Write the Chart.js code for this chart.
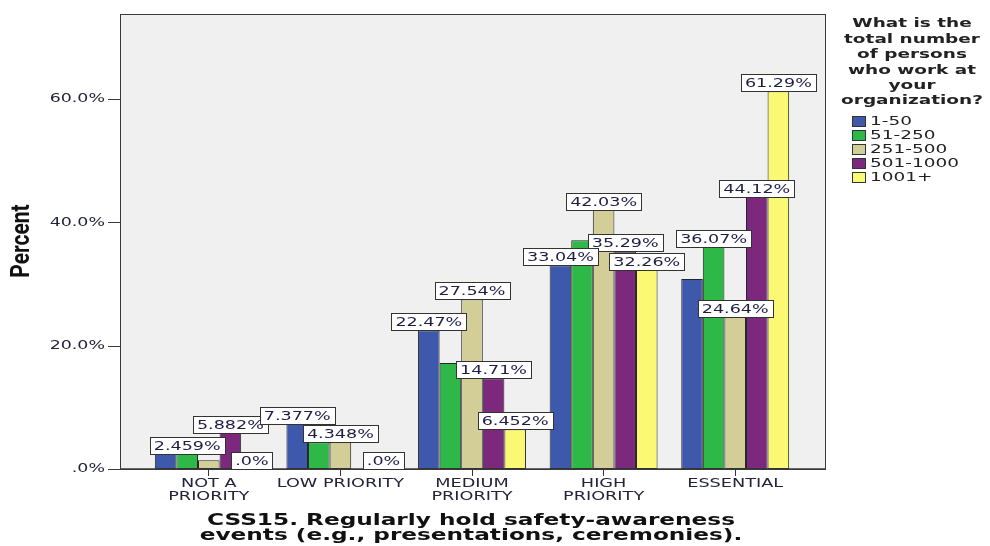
<!DOCTYPE html>
<html>
<head>
<meta charset="utf-8">
<script src="https://cdn.jsdelivr.net/npm/chart.js@4.4.1/dist/chart.umd.min.js"></script>
<style>
  html, body { margin: 0; padding: 0; background: #fff; }
  canvas { display: block; }
</style>
</head>
<body>
<canvas id="chart" width="990" height="546"></canvas>
<script>
// categories on the x axis
const categories = [['NOT A', 'PRIORITY'], 'LOW PRIORITY', ['MEDIUM', 'PRIORITY'], ['HIGH', 'PRIORITY'], 'ESSENTIAL'];

// organisation size groups (legend)
const seriesNames = ['1-50', '51-250', '251-500', '501-1000', '1001+'];

// percent values
const pct1to50 = [2.459, 7.377, 22.47, 33.04, 30.8];
const pct51to250 = [2.459, 4.35, 17.2, 37.1, 36.07];
const pct251to500 = [1.4, 4.348, 27.54, 42.03, 24.64];
const pct501to1000 = [5.882, null, 14.71, 35.29, 44.12];
const pct1001plus = [0, 0, 6.452, 32.26, 61.29];

// which bars carry a value label in the original
const label1to50 = [false, true, true, true, false];
const label51to250 = [true, false, false, false, true];
const label251to500 = [false, true, true, true, true];
const label501to1000 = [true, false, true, true, true];
const label1001plus = [true, true, true, true, true];

const yTicks = [0, 20, 40, 60];
const yMax = 73.8;

const legendTitle = ['What is the', 'total number', 'of persons', 'who work at', 'your', 'organization?'];
const xTitle = ['CSS15. Regularly hold safety-awareness', 'events (e.g., presentations, ceremonies).'];
const yTitle = 'Percent';

const colors = ['#3E58AC', '#2EB848', '#D3CE97', '#7C287D', '#FBF873'];
const FONT = '"DejaVu Sans", Verdana, sans-serif';
const TEXT = '#23233a';

const allValues = [pct1to50, pct51to250, pct251to500, pct501to1000, pct1001plus];
const allShown = [label1to50, label51to250, label251to500, label501to1000, label1001plus];

function fmtPct(v) {
  if (v === 0) return '.0%';
  return v.toPrecision(4) + '%';
}

function fmtTick(v) {
  return v === 0 ? '.0%' : v.toFixed(1) + '%';
}

// SPSS output here is stretched sideways, so text gets a horizontal scale
function wideText(ctx, str, x, y, font, sx, align, color) {
  ctx.save();
  ctx.font = font;
  ctx.fillStyle = color || TEXT;
  ctx.textBaseline = 'middle';
  ctx.textAlign = align || 'center';
  ctx.translate(x, y);
  ctx.scale(sx, 1);
  ctx.fillText(str, 0, 0);
  ctx.restore();
}

const spssPlugin = {
  id: 'spss',
  beforeDraw(chart) {
    const { ctx, chartArea: a } = chart;
    const left = a.left - 23, right = a.right + 25;
    ctx.save();
    ctx.fillStyle = '#F0F0F0';
    ctx.fillRect(left, a.top, right - left, a.bottom - a.top);
    ctx.restore();
  },
  afterDatasetsDraw(chart) {
    const { ctx, chartArea: a } = chart;
    const left = a.left - 23, right = a.right + 25;
    const xs = chart.scales.x, ys = chart.scales.y;

    // plot frame
    ctx.save();
    ctx.strokeStyle = '#3a3a3a';
    ctx.lineWidth = 1;
    ctx.strokeRect(left + 0.5, a.top + 0.5, right - left - 1, a.bottom - a.top);
    ctx.lineWidth = 1.5;
    ctx.beginPath();
    ctx.moveTo(left, a.bottom);
    ctx.lineTo(right, a.bottom);
    ctx.stroke();

    // y tick marks sit on the frame, not on the scale edge
    ctx.lineWidth = 1;
    ys.ticks.forEach(t => {
      const py = Math.round(ys.getPixelForValue(t.value)) + 0.5;
      ctx.beginPath();
      ctx.moveTo(left - 12, py);
      ctx.lineTo(left, py);
      ctx.stroke();
    });
    ctx.restore();

    // y tick labels
    ys.ticks.forEach(t => {
      wideText(ctx, fmtTick(t.value), left - 15, ys.getPixelForValue(t.value), '13px ' + FONT, 1.34, 'right', TEXT);
    });

    // x category labels
    xs.ticks.forEach((t, i) => {
      const px = xs.getPixelForTick(i);
      const lines = Array.isArray(categories[i]) ? categories[i] : [categories[i]];
      lines.forEach((line, j) => {
        wideText(ctx, line, px, 484 + j * 13, '13px ' + FONT, 1.36, 'center', TEXT);
      });
    });

    // value labels, blue last so it sits on top
    const labelFont = '13px ' + FONT;
    const sx = 1.35;
    for (let d = chart.data.datasets.length - 1; d >= 0; d--) {
      const meta = chart.getDatasetMeta(d);
      const vals = allValues[d];
      meta.data.forEach((bar, i) => {
        const v = vals[i];
        if (v === null || !allShown[d][i]) return;
        const txt = fmtPct(v);
        ctx.save();
        ctx.font = labelFont;
        const w = Math.round(ctx.measureText(txt).width * sx + 8);
        const h = 17;
        const bx = Math.round(bar.x - w / 2) + 0.5;
        const by = Math.round(bar.y - h) + 0.5;
        ctx.fillStyle = '#fff';
        ctx.fillRect(bx, by, w, h);
        ctx.strokeStyle = '#333';
        ctx.lineWidth = 1;
        ctx.strokeRect(bx, by, w, h);
        ctx.restore();
        wideText(ctx, txt, bar.x, by + h / 2 + 0.5, labelFont, sx, 'center', '#1e1e45');
      });
    }

    // legend
    const lx = 912;
    legendTitle.forEach((line, i) => {
      wideText(ctx, line, lx, 24 + i * 15.4, 'bold 13px ' + FONT, 1.42, 'center', '#222');
    });
    chart.data.datasets.forEach((ds, i) => {
      const cy = 122 + i * 14;
      ctx.save();
      ctx.fillStyle = ds.backgroundColor;
      ctx.fillRect(852, cy - 6, 14, 11);
      ctx.strokeStyle = '#333';
      ctx.strokeRect(852.5, cy - 5.5, 13, 10);
      ctx.restore();
      wideText(ctx, ds.label, 870, cy, '13px ' + FONT, 1.42, 'left', '#222');
    });

    // axis titles
    xTitle.forEach((line, i) => {
      wideText(ctx, line, 471, 521 + i * 15, 'bold 16px ' + FONT, 1.45, 'center', '#111');
    });
    ctx.save();
    ctx.translate(22, 241);
    ctx.rotate(-Math.PI / 2);
    ctx.font = 'bold 21px "Liberation Sans Narrow", "Roboto", sans-serif';
    ctx.fillStyle = '#111';
    ctx.textAlign = 'center';
    ctx.textBaseline = 'middle';
    ctx.scale(1, 1.25);
    ctx.fillText(yTitle, 0, 0);
    ctx.restore();
  }
};

const datasets = allValues.map((vals, i) => ({
  label: seriesNames[i],
  data: vals,
  backgroundColor: colors[i],
  borderColor: '#262626',
  borderWidth: 1,
  borderSkipped: false,
  categoryPercentage: 0.82,
  barPercentage: 1.0
}));

new Chart(document.getElementById('chart'), {
  type: 'bar',
  data: { labels: categories, datasets: datasets },
  options: {
    responsive: false,
    animation: false,
    devicePixelRatio: 1,
    layout: { autoPadding: false, padding: { top: 14, right: 189, bottom: 0, left: 0 } },
    plugins: {
      legend: { display: false },
      tooltip: { enabled: false }
    },
    scales: {
      x: {
        offset: true,
        grid: {
          display: true,
          offset: false,
          drawOnChartArea: false,
          drawTicks: true,
          tickLength: 7,
          color: '#333'
        },
        border: { display: false },
        ticks: { display: false, autoSkip: false, maxRotation: 0, minRotation: 0 },
        afterFit(scale) {
          scale.height = 77;
          scale.paddingLeft = 0;
          scale.paddingRight = 0;
        }
      },
      y: {
        min: 0,
        max: yMax,
        grid: { display: false, drawTicks: false },
        border: { display: false },
        afterBuildTicks(scale) {
          scale.ticks = yTicks.map(v => ({ value: v }));
        },
        ticks: { display: false },
        afterFit(scale) {
          scale.width = 143;
          scale.paddingTop = 0;
          scale.paddingBottom = 0;
        }
      }
    }
  },
  plugins: [spssPlugin]
});
</script>
</body>
</html>
